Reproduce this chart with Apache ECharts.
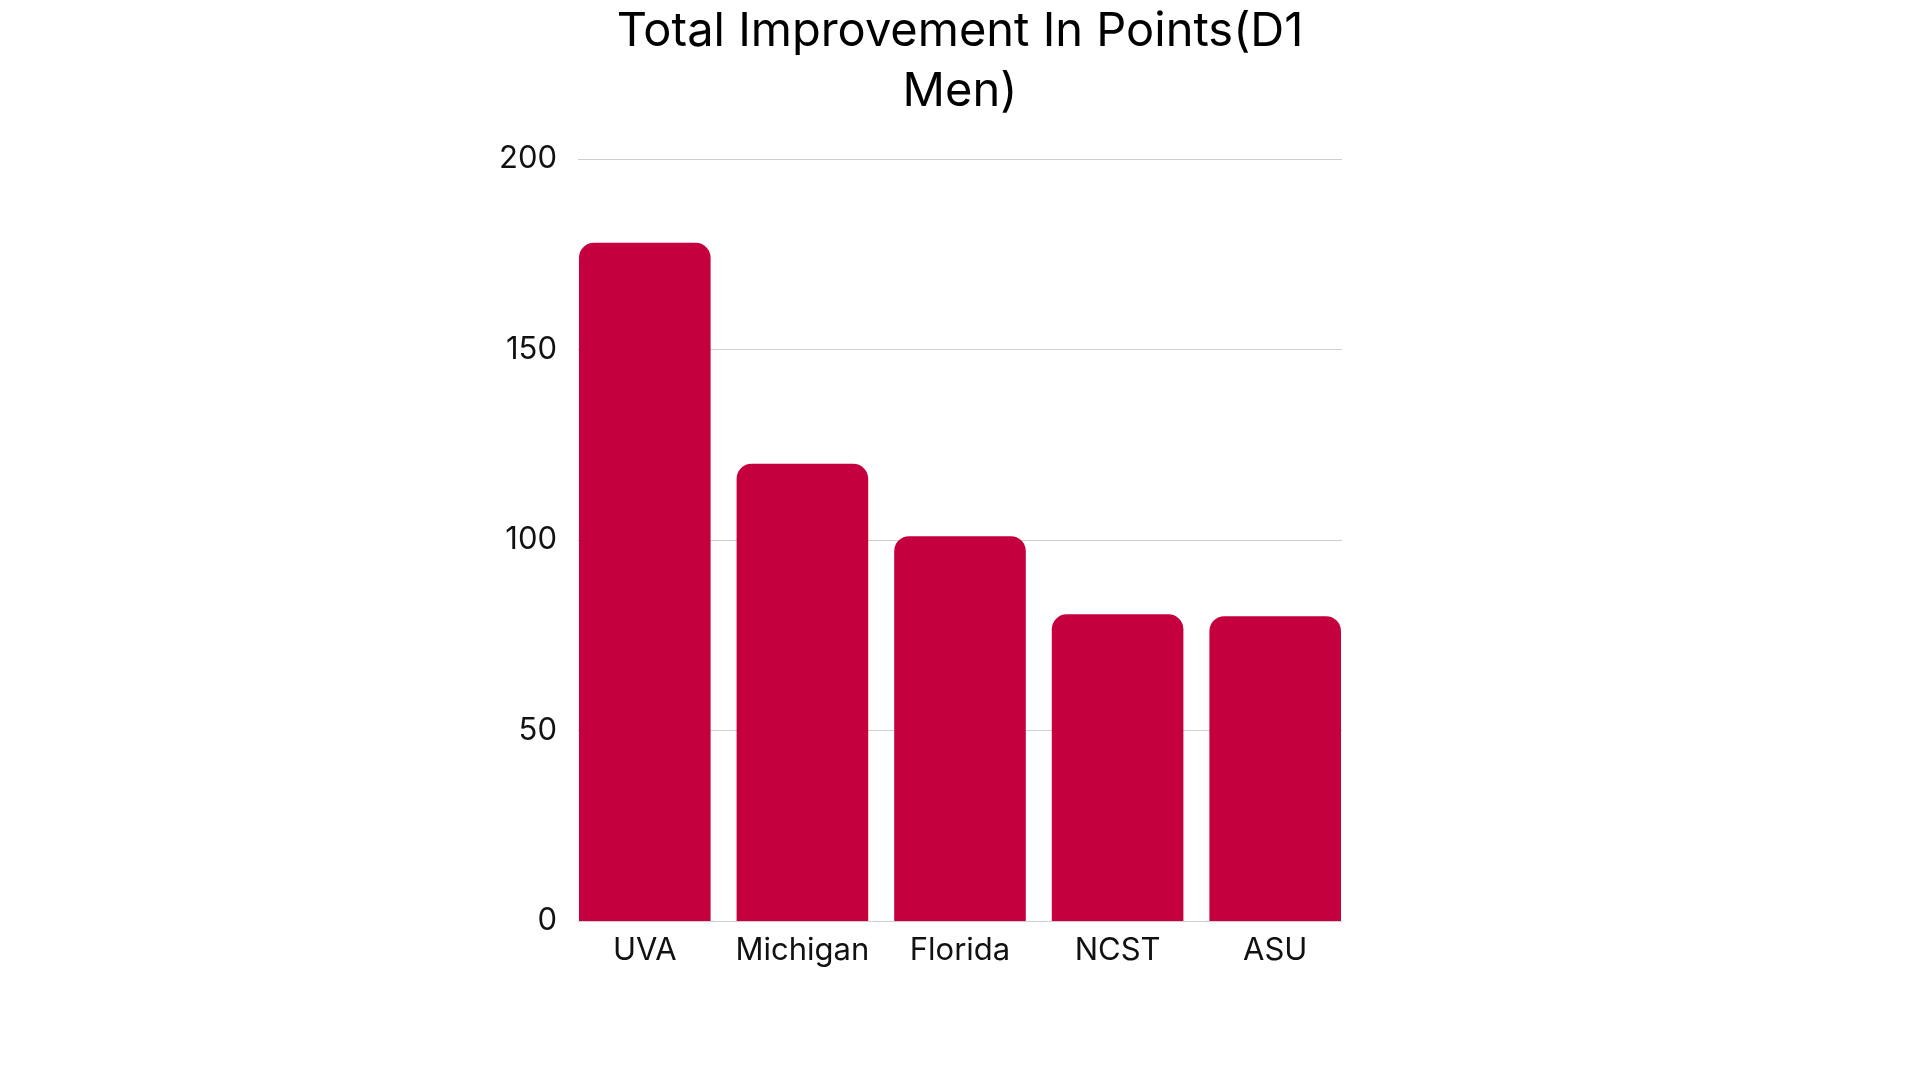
<!DOCTYPE html>
<html>
<head>
<meta charset="utf-8">
<title>Total Improvement In Points</title>
<script src="https://cdn.jsdelivr.net/npm/echarts@6/dist/echarts.min.js"></script>
<style>
  html, body { margin: 0; padding: 0; background: #fff; }
  #chart { width: 1920px; height: 1080px; }
</style>
</head>
<body>
<div id="chart"></div>
<script>
// data
var teams = ['UVA', 'Michigan', 'Florida', 'NCST', 'ASU'];
var points = [178, 120, 101, 80.5, 80];
var yTicks = [0, 50, 100, 150, 200];

var font = 'Inter';
var chart = echarts.init(document.getElementById('chart'));

var option = {
    backgroundColor: '#ffffff',
    animation: false,
    title: {
        text: 'Total Improvement In Points(D1\nMen)',
        left: 'center',
        top: -3,
        textStyle: {
            fontFamily: font,
            fontSize: 47,
            fontWeight: 'normal',
            color: '#000',
            lineHeight: 60
        }
    },
    // grid 0 only carries the gridlines and y labels, grid 1 carries the bars
    grid: [
        {left: 578, right: 578, top: 159, bottom: 159},
        {left: 566, right: 566, top: 159, bottom: 159}
    ],
    xAxis: [
        {gridIndex: 0, type: 'value', min: 0, max: 1, show: false},
        {
            gridIndex: 1,
            type: 'category',
            data: teams,
            axisLine: {show: false},
            axisTick: {show: false},
            axisLabel: {
                interval: 0,
                fontFamily: font,
                fontSize: 31,
                color: '#111',
                margin: 14
            }
        }
    ],
    yAxis: [
        {
            gridIndex: 0,
            type: 'value',
            min: yTicks[0],
            max: yTicks[yTicks.length - 1],
            interval: yTicks[1] - yTicks[0],
            axisLine: {show: false},
            axisTick: {show: false},
            axisLabel: {
                fontFamily: font,
                fontSize: 31,
                color: '#111',
                margin: 21,
                padding: [4, 0, 0, 0]
            },
            splitLine: {lineStyle: {color: '#cfcfcf', width: 1}}
        },
        {
            gridIndex: 1,
            type: 'value',
            min: yTicks[0],
            max: yTicks[yTicks.length - 1],
            show: false
        }
    ],
    series: [
        {
            type: 'bar',
            xAxisIndex: 1,
            yAxisIndex: 1,
            data: points,
            barCategoryGap: '16.5%',
            itemStyle: {
                color: '#c4003e',
                borderRadius: [15, 15, 0, 0]
            }
        }
    ]
};

chart.setOption(option);
</script>
</body>
</html>
